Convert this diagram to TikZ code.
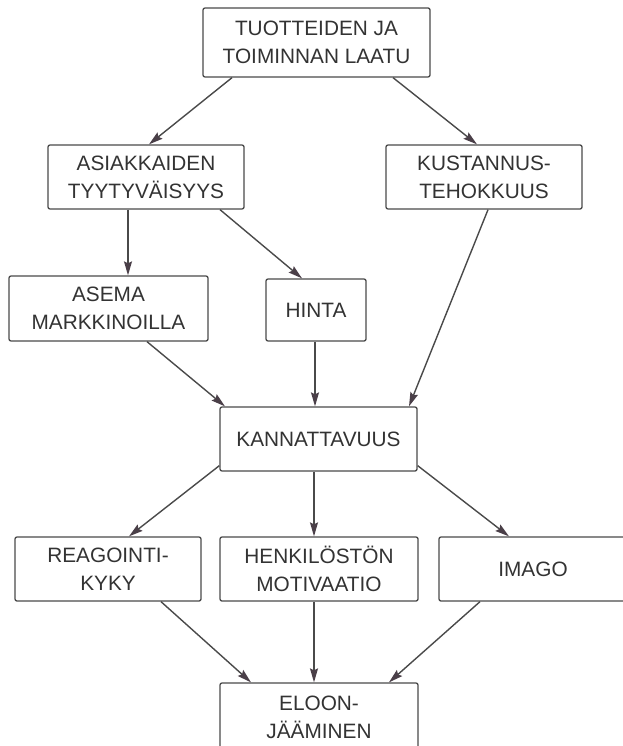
\documentclass[tikz,border=0pt]{standalone}
\usepackage{fontspec}
\setmainfont{Liberation Sans}
\usetikzlibrary{arrows.meta,calc}
\definecolor{linegray}{HTML}{4A4A4A}
\definecolor{textgray}{HTML}{333333}
\definecolor{tipcol}{HTML}{4A3F48}
\begin{document}
\begin{tikzpicture}[x=1pt,y=-1pt,
  box/.style={draw=linegray,line width=1.3pt,rounded corners=2pt,fill=white,
    text=textgray,align=center,inner sep=0pt,
    font=\fontsize{20.8}{28}\selectfont},
  conn/.style={draw=linegray,line width=1.4pt,
    -{Stealth[length=14pt,width=8pt,inset=2pt,color=tipcol]}}]
\useasboundingbox (0,0) rectangle (623,746);
\fill[white] (0,0) rectangle (623,746);
\begin{scope}
\clip (0,0) rectangle (623,746);
\node[box,minimum width=227pt,minimum height=69pt] (top) at (316.5,42.5) {TUOTTEIDEN JA\\TOIMINNAN LAATU};
\node[box,minimum width=196pt,minimum height=64pt] (asi) at (146,177) {ASIAKKAIDEN\\TYYTYVÄISYYS};
\node[box,minimum width=196pt,minimum height=64pt] (kus) at (484,177) {KUSTANNUS-\\TEHOKKUUS};
\node[box,minimum width=199pt,minimum height=65pt] (asema) at (108.5,308.5) {ASEMA\\MARKKINOILLA};
\node[box,minimum width=100pt,minimum height=62pt] (hinta) at (316,310) {HINTA};
\node[box,minimum width=197pt,minimum height=64pt] (kann) at (318.5,439) {KANNATTAVUUS};
\node[box,minimum width=186pt,minimum height=64pt] (reag) at (108,569) {REAGOINTI-\\KYKY};
\node[box,minimum width=198pt,minimum height=64pt] (henk) at (319,569) {HENKILÖSTÖN\\MOTIVAATIO};
\node[box,minimum width=188pt,minimum height=64pt] (imago) at (533,569) {IMAGO};
\node[box,minimum width=198pt,minimum height=68pt] (eloon) at (319,717) {ELOON-\\JÄÄMINEN};

\draw[conn] ([xshift=-84.5pt]top.south) -- ([xshift=3pt]asi.north);
\draw[conn] ([xshift=76.5pt]top.south) -- ([xshift=-7pt]kus.north);
\draw[conn] ([xshift=-18pt]asi.south) -- ([xshift=19.5pt]asema.north);
\draw[conn] ([xshift=74pt]asi.south) -- ([xshift=-14pt]hinta.north);
\draw[conn] ([xshift=4pt]kus.south) -- ([xshift=90.5pt]kann.north);
\draw[conn] ([xshift=38.5pt]asema.south) -- ([xshift=-93.5pt]kann.north);
\draw[conn] ([xshift=-1pt]hinta.south) -- ([xshift=-3.5pt]kann.north);
\draw[conn] ([yshift=6pt]kann.south west) -- ([xshift=21pt]reag.north);
\draw[conn] ([xshift=-4.5pt]kann.south) -- ([xshift=-5pt]henk.north);
\draw[conn] ([yshift=6pt]kann.south east) -- ([xshift=-24pt]imago.north);
\draw[conn] ([xshift=53pt]reag.south) -- ([xshift=-68pt]eloon.north);
\draw[conn] ([xshift=-5pt]henk.south) -- ([xshift=-5pt]eloon.north);
\draw[conn] ([xshift=-53pt]imago.south) -- ([xshift=70pt]eloon.north);
\end{scope}
\end{tikzpicture}
\end{document}
